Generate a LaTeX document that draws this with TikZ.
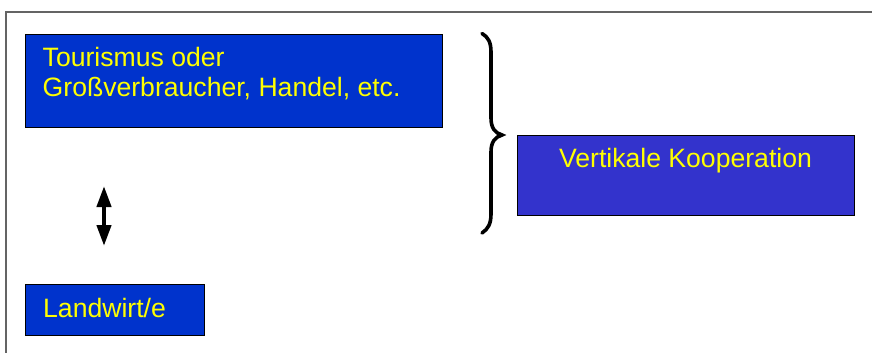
\documentclass[tikz,border=0pt]{standalone}
\usepackage{fontspec}
\setmainfont{Liberation Sans}
\usetikzlibrary{arrows.meta}
\definecolor{boxblue}{RGB}{0,51,204}
\definecolor{boxviolet}{RGB}{51,51,204}
\definecolor{txtyellow}{RGB}{255,255,0}
\definecolor{framegray}{RGB}{100,100,100}
\begin{document}
\begin{tikzpicture}[x=1pt,y=-1pt,
  box/.style={draw=black, line width=1.2pt, rectangle, inner sep=0pt, anchor=north west},
  lbl/.style={text=txtyellow, inner sep=0pt, font=\fontsize{26.6}{30}\selectfont},
  brace/.style={draw=black, line width=3.6pt, line cap=round},
  dblarrow/.style={draw=black, line width=4.2pt, {Triangle[width=14pt,length=21pt]}-{Triangle[width=14pt,length=21pt]}}
]
\useasboundingbox (0,0) rectangle (872,353);
\fill[white] (0,0) rectangle (872,353);
% outer frame (only top and left visible)
\draw[framegray, line width=1.6pt] (6,353) -- (6,12) -- (872,12);
% boxes
\node[box, fill=boxblue, minimum width=416.5pt, minimum height=93pt] (b1) at (25,34) {};
\node[box, fill=boxblue, minimum width=179pt, minimum height=50.5pt] (b2) at (25,284) {};
\node[box, fill=boxviolet, minimum width=337pt, minimum height=80pt] (b3) at (517,135) {};
% texts
\node[lbl, anchor=base west] (t1) at (42.5,66.7) {Tourismus oder};
\node[lbl, anchor=base west] (t2) at (42.5,96.7) {Großverbraucher, Handel, etc.};
\node[lbl, anchor=base west] (t3) at (43,317) {Landwirt/e};
\node[lbl, anchor=base] (t4) at (685.5,167) {Vertikale Kooperation};
% brace
\coordinate (brtop) at (482,33.5);
\coordinate (brtip) at (502,135);
\coordinate (brbot) at (482,233);
\draw[brace] (brtop) .. controls (488,37) and (491,42) .. (491,52) -- (491,118)
  .. controls (491,128) and (495,133) .. (brtip)
  .. controls (495,137) and (491,142) .. (491,152) -- (491,214)
  .. controls (491,224) and (488,229) .. (brbot);
% double arrow
\coordinate (arrtop) at (104,186);
\coordinate (arrbot) at (104,246);
\draw[dblarrow] (arrtop) -- (arrbot);
\end{tikzpicture}
\end{document}
